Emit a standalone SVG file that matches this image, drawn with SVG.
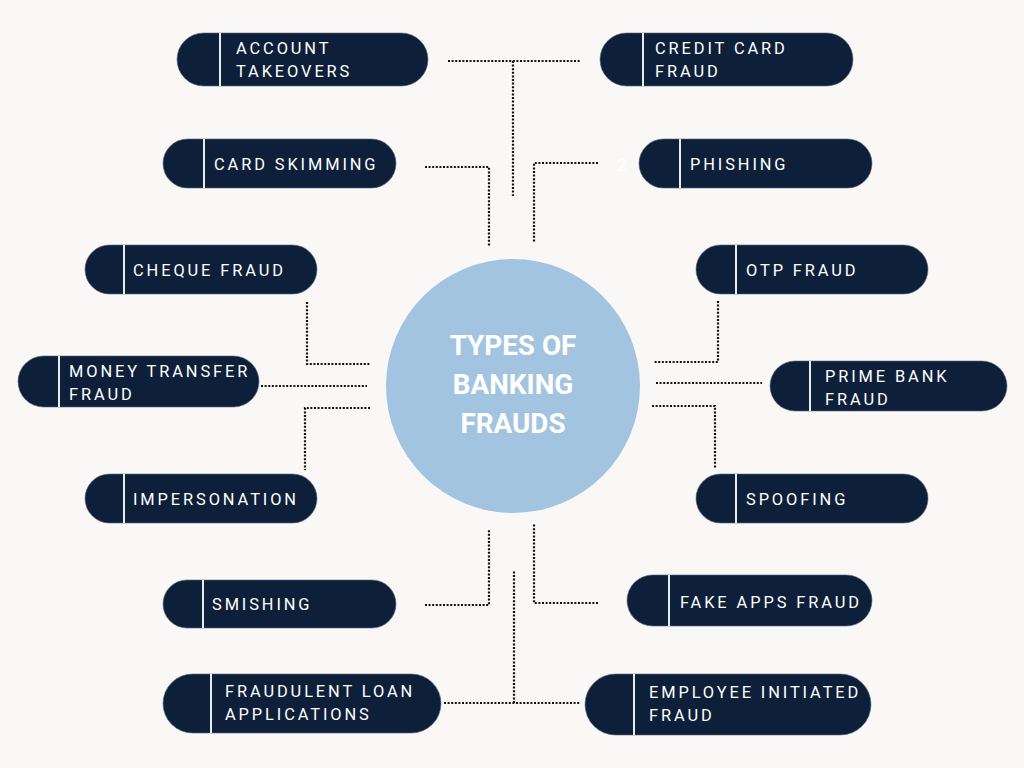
<svg xmlns="http://www.w3.org/2000/svg" width="1024" height="768" viewBox="0 0 1024 768">
<style>
.pill{fill:#0e2039;stroke:#5a6678;stroke-width:0.6}
.div{stroke:#e8ecf1;stroke-width:2}
.t{font-family:Roboto,"Liberation Sans",sans-serif;font-size:16.4px;fill:#ffffff;letter-spacing:2.9px}
.title{font-family:Roboto,"Liberation Sans",sans-serif;font-size:27.8px;font-weight:bold;fill:#ffffff;text-anchor:middle}
.c{fill:none;stroke:#111111;stroke-width:2.2;stroke-dasharray:2 1.6}
</style>
<rect width="1024" height="768" fill="#faf8f7"/>
<g id="connectors">
<path class="c" d="M448 61H581M513 61V196"/>
<path class="c" d="M425 167H489V247"/>
<path class="c" d="M598 163H534V242"/>
<path class="c" d="M307 302V364H371"/>
<path class="c" d="M261 386H367"/>
<path class="c" d="M370 408H305V470"/>
<path class="c" d="M718 301V362H653"/>
<path class="c" d="M656 383H762"/>
<path class="c" d="M652 406H715V468"/>
<path class="c" d="M425 605H489V529"/>
<path class="c" d="M598 603H534V523"/>
<path class="c" d="M444 703H580M514 703V570"/>
</g>
<g id="center">
<circle cx="513" cy="386" r="127" fill="#a3c4e0"/>
<text class="title" x="513" y="355">TYPES OF</text>
<text class="title" x="513" y="394">BANKING</text>
<text class="title" x="513" y="433">FRAUDS</text>
</g>
<g id="account-takeovers">
<rect class="pill" x="177" y="33" width="251" height="53" rx="26.5"/>
<line class="div" x1="220" y1="33" x2="220" y2="86"/>
<text class="t" x="236" y="54">ACCOUNT</text>
<text class="t" x="236" y="77">TAKEOVERS</text>
</g>
<g id="credit-card-fraud">
<rect class="pill" x="600" y="33" width="253" height="53" rx="26.5"/>
<line class="div" x1="643" y1="33" x2="643" y2="86"/>
<text class="t" x="655" y="54">CREDIT CARD</text>
<text class="t" x="655" y="77">FRAUD</text>
</g>
<g id="card-skimming">
<rect class="pill" x="163" y="139" width="233" height="49" rx="24.5"/>
<line class="div" x1="204" y1="139" x2="204" y2="188"/>
<text class="t" x="214" y="170">CARD SKIMMING</text>
</g>
<g id="phishing">
<text x="622" y="171" font-family="Roboto,'Liberation Sans',sans-serif" font-size="18" fill="#ffffff" text-anchor="middle">2</text>
<rect class="pill" x="639" y="139" width="233" height="49" rx="24.5"/>
<line class="div" x1="680" y1="139" x2="680" y2="188"/>
<text class="t" x="690" y="170">PHISHING</text>
</g>
<g id="cheque-fraud">
<rect class="pill" x="85" y="245" width="232" height="49" rx="24.5"/>
<line class="div" x1="124" y1="245" x2="124" y2="294"/>
<text class="t" x="133" y="276">CHEQUE FRAUD</text>
</g>
<g id="otp-fraud">
<rect class="pill" x="696" y="245" width="232" height="49" rx="24.5"/>
<line class="div" x1="736" y1="245" x2="736" y2="294"/>
<text class="t" x="746" y="276">OTP FRAUD</text>
</g>
<g id="money-transfer-fraud">
<rect class="pill" x="18" y="356" width="241" height="51" rx="25.5"/>
<line class="div" x1="59" y1="356" x2="59" y2="407"/>
<text class="t" x="69" y="377">MONEY TRANSFER</text>
<text class="t" x="69" y="400">FRAUD</text>
</g>
<g id="prime-bank-fraud">
<rect class="pill" x="770" y="361" width="237" height="50" rx="25"/>
<line class="div" x1="810" y1="361" x2="810" y2="411"/>
<text class="t" x="825" y="382">PRIME BANK</text>
<text class="t" x="825" y="405">FRAUD</text>
</g>
<g id="impersonation">
<rect class="pill" x="85" y="474" width="232" height="49" rx="24.5"/>
<line class="div" x1="124" y1="474" x2="124" y2="523"/>
<text class="t" x="133" y="505">IMPERSONATION</text>
</g>
<g id="spoofing">
<rect class="pill" x="696" y="474" width="232" height="49" rx="24.5"/>
<line class="div" x1="736" y1="474" x2="736" y2="523"/>
<text class="t" x="746" y="505">SPOOFING</text>
</g>
<g id="smishing">
<rect class="pill" x="163" y="580" width="233" height="48" rx="24"/>
<line class="div" x1="203" y1="580" x2="203" y2="628"/>
<text class="t" x="212" y="610">SMISHING</text>
</g>
<g id="fake-apps-fraud">
<rect class="pill" x="627" y="575" width="245" height="51" rx="25.5"/>
<line class="div" x1="669" y1="575" x2="669" y2="626"/>
<text class="t" x="680" y="608">FAKE APPS FRAUD</text>
</g>
<g id="fraudulent-loan-applications">
<rect class="pill" x="163" y="674" width="278" height="59" rx="29.5"/>
<line class="div" x1="211" y1="674" x2="211" y2="733"/>
<text class="t" x="225" y="697">FRAUDULENT LOAN</text>
<text class="t" x="225" y="720">APPLICATIONS</text>
</g>
<g id="employee-initiated-fraud">
<rect class="pill" x="585" y="674" width="286" height="61" rx="30.5"/>
<line class="div" x1="634" y1="674" x2="634" y2="735"/>
<text class="t" x="649" y="698">EMPLOYEE INITIATED</text>
<text class="t" x="649" y="721">FRAUD</text>
</g>
</svg>
